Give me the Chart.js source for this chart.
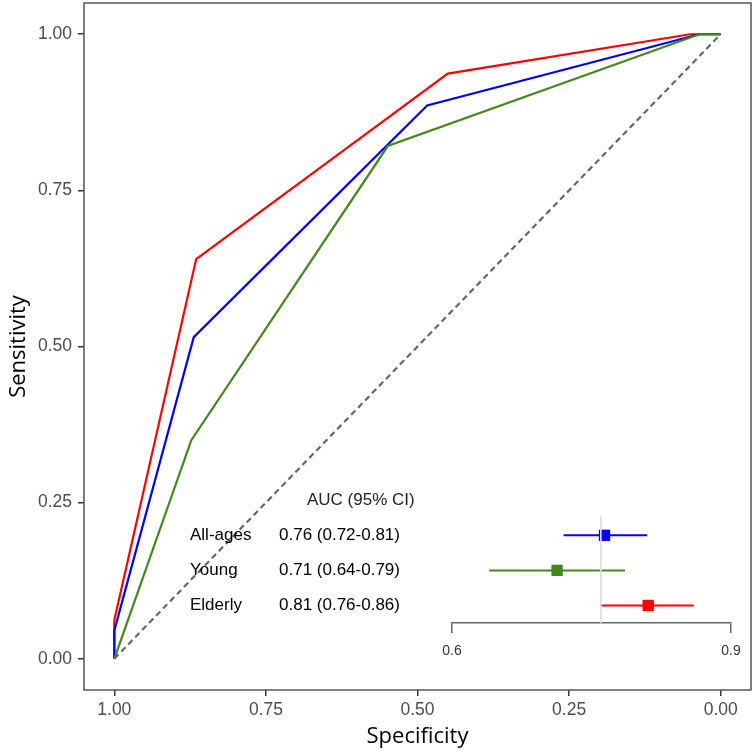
<!DOCTYPE html>
<html lang="en">
<head>
    <meta charset="UTF-8">
    <title>ROC curves by age group</title>
    <script src="https://cdn.jsdelivr.net/npm/chart.js"></script>
    <style>
        body { margin: 0; background: #fff; }
        #wrap { position: relative; width: 756px; height: 756px; }
        .layer { position: absolute; left: 0; top: 0; width: 756px; height: 756px; }
    </style>
</head>
<body>
    <div id="wrap">
        <div class="layer"><canvas id="rocChart"></canvas></div>
        <div class="layer"><canvas id="aucChart"></canvas></div>
    </div>

    <script>
        // ROC curves (specificity, sensitivity)
        const allSpec = [1, 1, 0.869, 0.484, 0.035, 0];
        const allSens = [0, 0.045, 0.515, 0.886, 1, 1];
        const youngSpec = [1, 0.873, 0.549, 0.035, 0];
        const youngSens = [0, 0.35, 0.821, 1, 1];
        const elderlySpec = [1, 1, 0.865, 0.45, 0.05, 0];
        const elderlySens = [0, 0.062, 0.64, 0.937, 1, 1];
        const chanceLine = [0, 1];

        const axisTicks = [0, 0.25, 0.5, 0.75, 1];

        // AUC table / forest plot
        const groups = ['All-ages', 'Young', 'Elderly'];
        const aucEst = [0.764, 0.713, 0.811];
        const aucLow = [0.72, 0.64, 0.76];
        const aucHigh = [0.81, 0.786, 0.86];
        const refAuc = 0.76;
        const aucTicks = [0.6, 0.9];

        const colors = ['#0000ff', '#40891a', '#ff0000'];

        function toPoints(xs, ys) {
            return xs.map((x, i) => ({ x: x, y: ys[i] }));
        }

        // frame round the plot panel
        const panelBorder = {
            id: 'panelBorder',
            afterDraw(chart) {
                const a = chart.chartArea;
                const ctx = chart.ctx;
                ctx.save();
                ctx.strokeStyle = '#555';
                ctx.lineWidth = 1.5;
                ctx.strokeRect(a.left, a.top, a.right - a.left, a.bottom - a.top);
                ctx.restore();
            }
        };

        const fixTicks = list => scale => { scale.ticks = list.map(v => ({ value: v })); };
        // fixed axis size, and no extra room kept for the edge labels
        const fixSize = (key, val) => scale => {
            scale[key] = val;
            scale.paddingTop = 0;
            scale.paddingBottom = 0;
            scale.paddingLeft = 0;
            scale.paddingRight = 0;
        };

        new Chart(document.getElementById('rocChart'), {
            type: 'scatter',
            data: {
                datasets: [{
                    data: toPoints(chanceLine.map(v => 1 - v), chanceLine),
                    borderColor: '#666',
                    borderWidth: 2.2,
                    borderDash: [6, 4]
                }, {
                    data: toPoints(youngSpec, youngSens),
                    borderColor: colors[1],
                    borderWidth: 2.2
                }, {
                    data: toPoints(allSpec, allSens),
                    borderColor: colors[0],
                    borderWidth: 2.2
                }, {
                    data: toPoints(elderlySpec, elderlySens),
                    borderColor: colors[2],
                    borderWidth: 2.2
                }]
            },
            options: {
                responsive: true,
                maintainAspectRatio: false,
                animation: false,
                showLine: true,
                elements: { point: { radius: 0 }, line: { tension: 0 } },
                layout: { padding: { top: 3, right: 5, left: 0, bottom: 0 } },
                plugins: { legend: { display: false }, tooltip: { enabled: false } },
                scales: {
                    x: {
                        type: 'linear',
                        reverse: true,
                        min: -0.05,
                        max: 1.05,
                        afterBuildTicks: fixTicks(axisTicks),
                        afterFit: fixSize('height', 66),
                        border: { display: false },
                        grid: { drawOnChartArea: false, tickLength: 6, color: '#333', lineWidth: 1.5 },
                        ticks: {
                            padding: 4,
                            color: '#4d4d4d',
                            font: { family: '"Liberation Sans", Arial, sans-serif', size: 17.5 },
                            maxRotation: 0,
                            callback: v => v.toFixed(2)
                        },
                        title: {
                            display: true,
                            text: 'Specificity',
                            color: '#000',
                            padding: { top: 0, bottom: 6 },
                            font: { family: '"Open Sans", sans-serif', size: 22 }
                        }
                    },
                    y: {
                        type: 'linear',
                        min: -0.05,
                        max: 1.05,
                        afterBuildTicks: fixTicks(axisTicks),
                        afterFit: fixSize('width', 84),
                        border: { display: false },
                        grid: { drawOnChartArea: false, tickLength: 6, color: '#333', lineWidth: 1.5 },
                        ticks: {
                            padding: 6,
                            color: '#4d4d4d',
                            font: { family: '"Liberation Sans", Arial, sans-serif', size: 17.5 },
                            callback: v => v.toFixed(2)
                        },
                        title: {
                            display: true,
                            text: 'Sensitivity',
                            color: '#000',
                            padding: { top: 6, bottom: 0 },
                            font: { family: '"Open Sans", sans-serif', size: 22 }
                        }
                    }
                }
            },
            plugins: [panelBorder]
        });

        // AUC table text, tied to the forest plot's row scale
        const aucTable = {
            id: 'aucTable',
            afterDraw(chart) {
                const ctx = chart.ctx;
                const ys = chart.scales.y;
                ctx.save();
                ctx.font = '17px "Liberation Sans", Arial, sans-serif';
                ctx.textBaseline = 'middle';
                ctx.textAlign = 'left';
                ctx.fillStyle = '#222';
                ctx.fillText('AUC (95% CI)', 307, ys.getPixelForValue(0));
                ctx.fillStyle = '#000';
                groups.forEach((g, i) => {
                    const y = ys.getPixelForValue(i + 1);
                    ctx.fillText(g, 190, y);
                    const txt = aucEst[i].toFixed(2) + ' (' + aucLow[i].toFixed(2) + '-' + aucHigh[i].toFixed(2) + ')';
                    ctx.fillText(txt, 279, y);
                });
                ctx.restore();
            }
        };

        const forestSets = [{
            data: [{ x: refAuc, y: 0.45 }, { x: refAuc, y: 3.5 }],
            borderColor: '#dcdcdc',
            borderWidth: 1,
            showLine: true,
            pointRadius: 0
        }];
        groups.forEach((g, i) => {
            forestSets.push({
                data: [{ x: aucLow[i], y: i + 1 }, { x: aucHigh[i], y: i + 1 }],
                borderColor: colors[i],
                borderWidth: 2,
                showLine: true,
                pointRadius: 0
            });
        });
        forestSets.push({
            data: aucEst.map((v, i) => ({ x: v, y: i + 1 })),
            pointStyle: 'rect',
            pointRadius: 8,
            backgroundColor: colors,
            borderColor: colors,
            borderWidth: 0,
            showLine: false
        });

        new Chart(document.getElementById('aucChart'), {
            type: 'scatter',
            data: { datasets: forestSets },
            options: {
                responsive: true,
                maintainAspectRatio: false,
                animation: false,
                layout: { padding: { left: 452, right: 25, top: 516, bottom: 93 } },
                plugins: { legend: { display: false }, tooltip: { enabled: false } },
                scales: {
                    x: {
                        type: 'linear',
                        min: 0.6,
                        max: 0.9,
                        afterBuildTicks: fixTicks(aucTicks),
                        afterFit: fixSize('height', 40),
                        border: { display: true, color: '#666', width: 1.5 },
                        grid: { drawOnChartArea: false, tickLength: 10, color: '#666', lineWidth: 1.5 },
                        ticks: {
                            padding: 10,
                            color: '#333',
                            maxRotation: 0,
                            font: { family: '"Liberation Sans", Arial, sans-serif', size: 14 },
                            callback: v => v.toFixed(1)
                        }
                    },
                    y: {
                        type: 'linear',
                        min: 0.45,
                        max: 3.5,
                        reverse: true,
                        display: false
                    }
                }
            },
            plugins: [aucTable]
        });
    </script>
</body>
</html>
